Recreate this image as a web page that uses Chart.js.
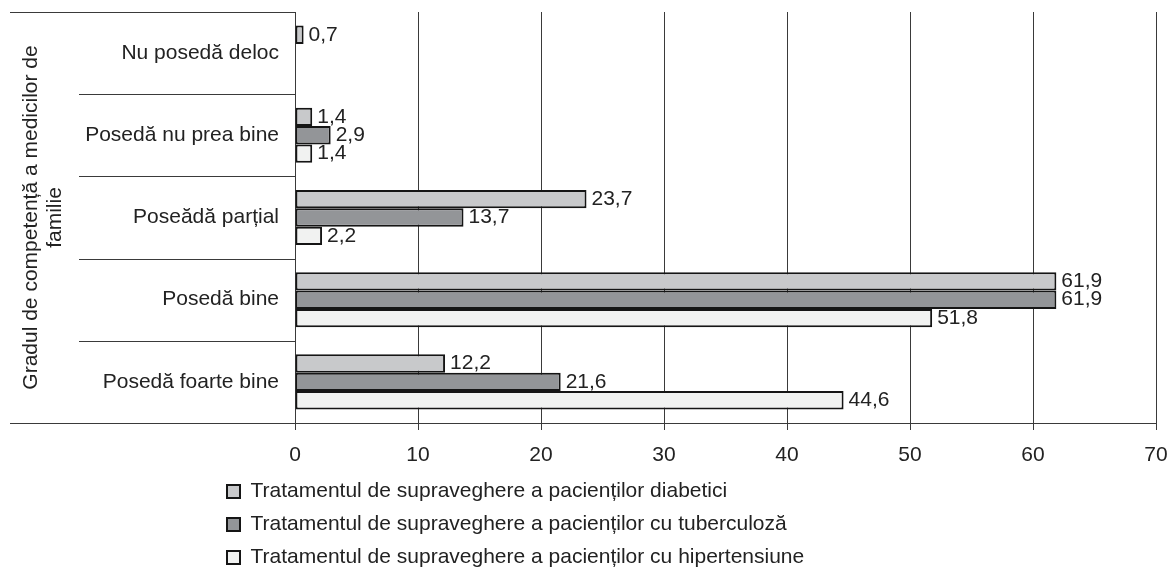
<!DOCTYPE html>
<html>
<head>
<meta charset="utf-8">
<script src="https://cdn.jsdelivr.net/npm/chart.js@4"></script>
<style>
    body { margin: 0; background: #fff; }
    #wrap { width: 1168px; height: 570px; position: relative; }
</style>
</head>
<body>
<div id="wrap"><canvas id="competenceChart"></canvas></div>
<script>
const categories = ['Nu posedă deloc', 'Posedă nu prea bine', 'Poseădă parțial', 'Posedă bine', 'Posedă foarte bine'];
const seriesNames = [
    'Tratamentul de supraveghere a pacienților diabetici',
    'Tratamentul de supraveghere a pacienților cu tuberculoză',
    'Tratamentul de supraveghere a pacienților cu hipertensiune'
];
const diabetici = [0.7, 1.4, 23.7, 61.9, 12.2];
const tuberculoza = [null, 2.9, 13.7, 61.9, 21.6];
const hipertensiune = [null, 1.4, 2.2, 51.8, 44.6];
const xTicks = [0, 10, 20, 30, 40, 50, 60, 70];

const ink = '#222222';
const lineColor = '#3a3a3a';
Chart.defaults.font.family = '"Liberation Sans", Arial, sans-serif';
Chart.defaults.font.size = 21;
Chart.defaults.color = ink;

// value labels at the end of each bar, decimal comma
const valueLabels = {
    id: 'valueLabels',
    afterDatasetsDraw(chart) {
        const ctx = chart.ctx;
        ctx.save();
        ctx.font = '21px "Liberation Sans", Arial, sans-serif';
        ctx.fillStyle = ink;
        ctx.textBaseline = 'middle';
        ctx.textAlign = 'left';
        chart.data.datasets.forEach((ds, i) => {
            const meta = chart.getDatasetMeta(i);
            meta.data.forEach((bar, j) => {
                const v = ds.data[j];
                if (v === null || v === undefined) return;
                ctx.fillText(String(v).replace('.', ','), bar.x + 5, bar.y);
            });
        });
        ctx.restore();
    }
};

// horizontal separators between the category labels
const categoryLines = {
    id: 'categoryLines',
    beforeDatasetsDraw(chart) {
        const y = chart.scales.y;
        const area = chart.chartArea;
        const ctx = chart.ctx;
        ctx.save();
        ctx.strokeStyle = lineColor;
        ctx.lineWidth = 1;
        for (let i = 0; i <= categories.length; i++) {
            const py = Math.round(y.getPixelForValue(i - 0.5)) + 0.5;
            const outer = i === 0 || i === categories.length;
            ctx.beginPath();
            ctx.moveTo(outer ? 10 : area.left - 216, py);
            ctx.lineTo(area.left, py);
            ctx.stroke();
        }
        ctx.restore();
    }
};

// move the legend under the labels, one entry per row
const legendPlace = {
    id: 'legendPlace',
    afterLayout(chart) {
        const lg = chart.legend;
        lg.left -= 80; lg.right -= 80;
        lg.top += 8; lg.bottom += 8;
    }
};

const ctx = document.getElementById('competenceChart').getContext('2d');
new Chart(ctx, {
    type: 'bar',
    data: {
        labels: categories,
        datasets: [
            { label: seriesNames[0], data: diabetici, backgroundColor: '#c8c9cb' },
            { label: seriesNames[1], data: tuberculoza, backgroundColor: '#939598' },
            { label: seriesNames[2], data: hipertensiune, backgroundColor: '#f1f2f1' }
        ].map(ds => Object.assign(ds, { borderColor: '#151515', borderWidth: 2, borderSkipped: false }))
    },
    options: {
        indexAxis: 'y',
        responsive: true,
        maintainAspectRatio: false,
        animation: false,
        categoryPercentage: 0.67,
        barPercentage: 1.0,
        layout: { padding: { left: 10, right: 12, top: 12, bottom: 0 } },
        scales: {
            x: {
                min: xTicks[0],
                max: xTicks[xTicks.length - 1],
                afterBuildTicks: scale => { scale.ticks = xTicks.map(v => ({ value: v })); },
                afterFit: scale => {
                    scale.height = 38;
                    scale.paddingLeft = 0;
                    scale.paddingRight = 0;
                },
                grid: { color: lineColor, lineWidth: 1, tickLength: 7, drawTicks: true },
                border: { display: true, color: lineColor, width: 1 },
                ticks: { padding: 13, color: ink, font: { size: 21 } }
            },
            y: {
                grid: { display: false, drawTicks: false },
                border: { display: true, color: lineColor, width: 1 },
                ticks: { padding: 16, color: ink, font: { size: 21 } },
                afterFit: scale => {
                    scale.width = 285;
                    scale.paddingTop = 0;
                    scale.paddingBottom = 0;
                },
                title: {
                    display: true,
                    text: ['Gradul de competență a medicilor de', 'familie'],
                    color: ink,
                    font: { size: 21, lineHeight: 1.15 },
                    padding: { top: 9, bottom: 0 }
                }
            }
        },
        plugins: {
            legend: {
                position: 'bottom',
                fullSize: false,
                align: 'start',
                labels: { boxWidth: 13, boxHeight: 13, padding: 12, color: ink, font: { size: 21 } }
            },
            tooltip: { enabled: false }
        }
    },
    plugins: [valueLabels, categoryLines, legendPlace]
});
</script>
</body>
</html>
